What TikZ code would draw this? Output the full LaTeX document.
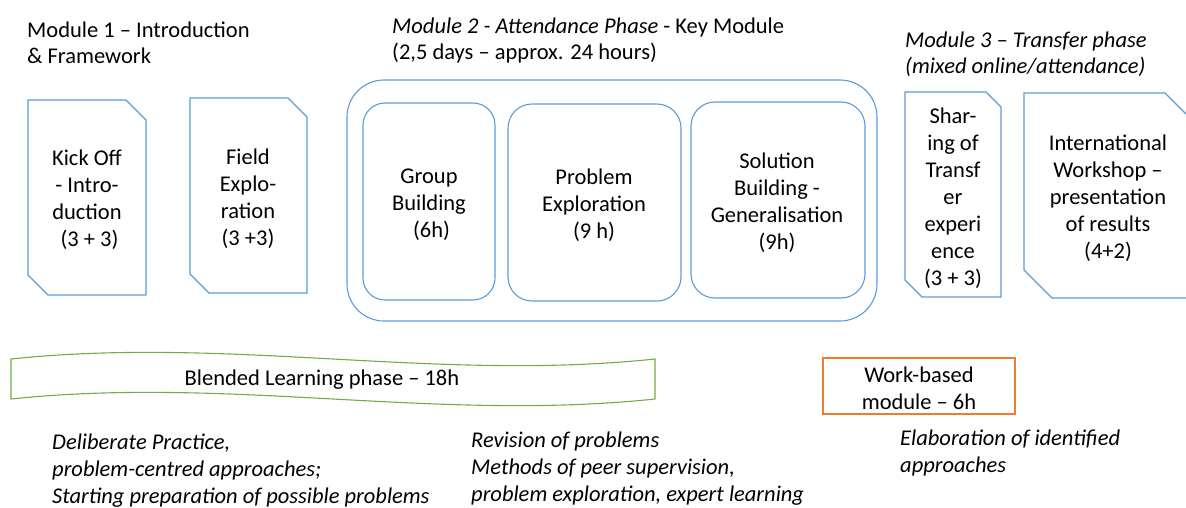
\documentclass[tikz,border=0pt]{standalone}
\usepackage{fontspec}
\setmainfont{Carlito}
\definecolor{boxblue}{HTML}{5B9BD5}
\definecolor{boxgreen}{HTML}{70AD47}
\definecolor{boxorange}{HTML}{ED7D31}
\begin{document}
\begin{tikzpicture}[x=1pt,y=-1pt,
  every node/.style={font=\fontsize{22.5}{27}\selectfont, inner sep=0pt, text=black},
  blueline/.style={draw=boxblue, line width=1.1pt},
  greenline/.style={draw=boxgreen, line width=1.1pt},
  orangeline/.style={draw=boxorange, line width=1.1pt},
  boxtext/.style={align=center},
  hdr/.style={anchor=base west},
  note/.style={anchor=base west, font=\itshape\fontsize{22.5}{27}\selectfont}]
\useasboundingbox (0,0) rectangle (1186,507);
\clip (0,0) rectangle (1186,507);

% headers
\node[hdr] (h1a) at (27,37) {Module 1 – Introduction};
\node[hdr] (h1b) at (27,63) {\& Framework};
\node[hdr] (h2a) at (392,33) {\textit{Module 2 - Attendance Phase} - Key Module};
\node[hdr] (h2b) at (392,59) {(2,5 days – approx. 24 hours)};
\node[hdr] (h3a) at (905,47) {\textit{Module 3 – Transfer phase}};
\node[hdr] (h3b) at (905,73) {\textit{(mixed online/attendance)}};

% module 1 boxes
\draw[blueline] (28,100) -- (126,100) -- (146,120) -- (146,295) -- (48,295) -- (28,275) -- cycle;
\node[boxtext] (kick) at (87,200) {Kick Off\\- Intro-\\duction\\\ (3 + 3)};
\draw[blueline] (190,98) -- (288,98) -- (307,117) -- (307,293) -- (209,293) -- (190,274) -- cycle;
\node[boxtext] (field) at (248,199) {Field\\Explo-\\ration\\(3 +3)};

% module 2
\draw[blueline, rounded corners=37pt] (347,80) rectangle (877,321);
\draw[blueline, rounded corners=22pt] (363,103) rectangle (495,300);
\node[boxtext] (group) at (429,204.5) {Group\\Building\\\ (6h)};
\draw[blueline, rounded corners=24pt] (508,104) rectangle (681,301);
\node[boxtext] (problem) at (594,205.5) {Problem\\Exploration\\(9 h)};
\draw[blueline, rounded corners=24pt] (691,102) rectangle (865,298);
\node[boxtext] (solution) at (777,202.5) {Solution\\Building -\\Generalisation\\(9h)};

% module 3
\draw[blueline] (905,92) -- (986,92) -- (1001,107) -- (1001,297) -- (922,297) -- (905,280) -- cycle;
\node[boxtext] (sharing) at (953,198) {Shar-\\ing of\\Transf\\er\\experi\\ence\\(3 + 3)};
\draw[blueline] (1024,93) -- (1165,93) -- (1195,123) -- (1195,298) -- (1052,298) -- (1024,270) -- cycle;
\node[boxtext] (intl) at (1108,198) {International\\Workshop –\\presentation\\of results\\(4+2)};

% blended learning wave
\draw[greenline] (11,359) .. controls (230,336) and (436,382) .. (655,359) -- (655,399) .. controls (436,422) and (230,376) .. (11,399) -- cycle;
\node (blended) at (322,380) {Blended Learning phase – 18h};

% work-based
\draw[orangeline] (823,358) rectangle (1015,414);
\node[boxtext] (work) at (919,388) {Work-based\\module – 6h};

% notes
\node[note] (n1a) at (52,449) {Deliberate Practice,};
\node[note] (n1b) at (52,476) {problem-centred approaches;};
\node[note] (n1c) at (52,503) {Starting preparation of possible problems};
\node[note] (n2a) at (471,447) {Revision of problems};
\node[note] (n2b) at (471,474) {Methods of peer supervision,};
\node[note] (n2c) at (471,501) {problem exploration, expert learning};
\node[note] (n3a) at (900,445) {Elaboration of identified};
\node[note] (n3b) at (900,472) {approaches};
\end{tikzpicture}
\end{document}
